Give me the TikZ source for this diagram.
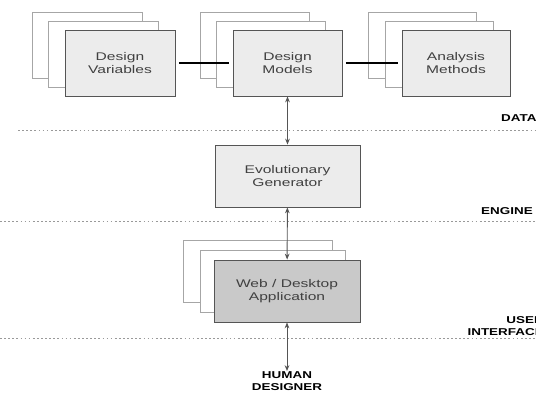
\documentclass[tikz,border=0pt]{standalone}
\usepackage{fontspec}
\setmainfont{Liberation Sans}
\newfontfamily\boxfont[FakeStretch=1.4]{Liberation Sans}
\newfontfamily\tagfont[FakeStretch=1.35]{Liberation Sans}
\usetikzlibrary{positioning,arrows.meta}
\definecolor{boxgray}{HTML}{ECECEC}
\definecolor{uigray}{HTML}{C9C9C9}
\definecolor{linegray}{HTML}{555555}
\tikzset{
	box/.style = {
		draw = linegray,
		fill = boxgray,
		rectangle,
		line width = 0.8pt,
		text centered,
		align = center,
		text = black!75,
		font = \boxfont\fontsize{9.5}{10.5}\selectfont,
		inner sep = 0pt
	},
	page/.style = {
		draw = black!35,
		fill = white,
		rectangle,
		line width = 0.4pt,
		inner sep = 0pt
	},
	link/.style = {
		line width = 1.8pt,
		black,
		shorten <= 3pt,
		shorten >= 3pt
	},
	flow/.style = {
		<->,
		>={Stealth[length=5pt,width=4pt]},
		line width = 0.8pt,
		linegray
	},
	layer/.style = {
		draw = black!40,
		dash pattern = on 1.5pt off 2pt,
		line width = 0.6pt
	},
	tag/.style = {
		font = \tagfont\bfseries\fontsize{8.5}{10.5}\selectfont,
		inner sep = 0pt
	}
}
\begin{document}
\begin{tikzpicture}[x=0.03cm, y=-0.03cm]
    \useasboundingbox (0,0) rectangle (536,396) ;

    % data layer
    \node [page, minimum width = 3.3cm, minimum height = 1.98cm] (varsback) at (87,45) {} ;
    \node [page, minimum width = 3.3cm, minimum height = 1.98cm] (varsmid) at (103,54) {} ;
    \node [box, minimum width = 3.3cm, minimum height = 1.98cm] (vars) at (120,63) {Design\\Variables} ;

    \node [page, minimum width = 3.27cm, minimum height = 1.98cm] (modelsback) at (255,45) {} ;
    \node [page, minimum width = 3.27cm, minimum height = 1.98cm] (modelsmid) at (271,54) {} ;
    \node [box, minimum width = 3.27cm, minimum height = 1.98cm] (models) at (287.5,63) {Design\\Models} ;

    \node [page, minimum width = 3.24cm, minimum height = 1.98cm] (methodsback) at (422,45) {} ;
    \node [page, minimum width = 3.24cm, minimum height = 1.98cm] (methodsmid) at (439,54) {} ;
    \node [box, minimum width = 3.24cm, minimum height = 1.98cm] (methods) at (456,63) {Analysis\\Methods} ;

    \draw [link] (vars) -- (models) ;
    \draw [link] (models) -- (methods) ;

    \draw [layer] (18,130) -- (536,130) ;
    \node [tag, anchor = west] (data) at (501,118) {DATA} ;

    % engine layer
    \node [box, minimum width = 4.35cm, minimum height = 1.86cm] (gen) at (287.5,176) {Evolutionary\\Generator} ;
    \draw [flow] (models) -- (gen) ;

    \draw [layer] (0,221) -- (536,221) ;
    \node [tag, anchor = west] (engine) at (481,211) {ENGINE} ;

    % user interface layer
    \node [page, minimum width = 4.47cm, minimum height = 1.86cm] (appback) at (257.5,271) {} ;
    \node [page, minimum width = 4.35cm, minimum height = 1.86cm] (appmid) at (272.5,281) {} ;
    \node [box, fill = uigray, minimum width = 4.38cm, minimum height = 1.86cm] (app) at (287,291) {Web / Desktop\\Application} ;
    \draw [flow] (gen) -- (app) ;

    \draw [layer] (0,338) -- (536,338) ;
    \node [tag, anchor = north east, align = right] (ui) at (544,316) {USER\\INTERFACE} ;

    \node [tag, align = center, anchor = north] (human) at (287,371) {HUMAN\\DESIGNER} ;
    \draw [flow] (app) -- (human) ;
\end{tikzpicture}
\end{document}
